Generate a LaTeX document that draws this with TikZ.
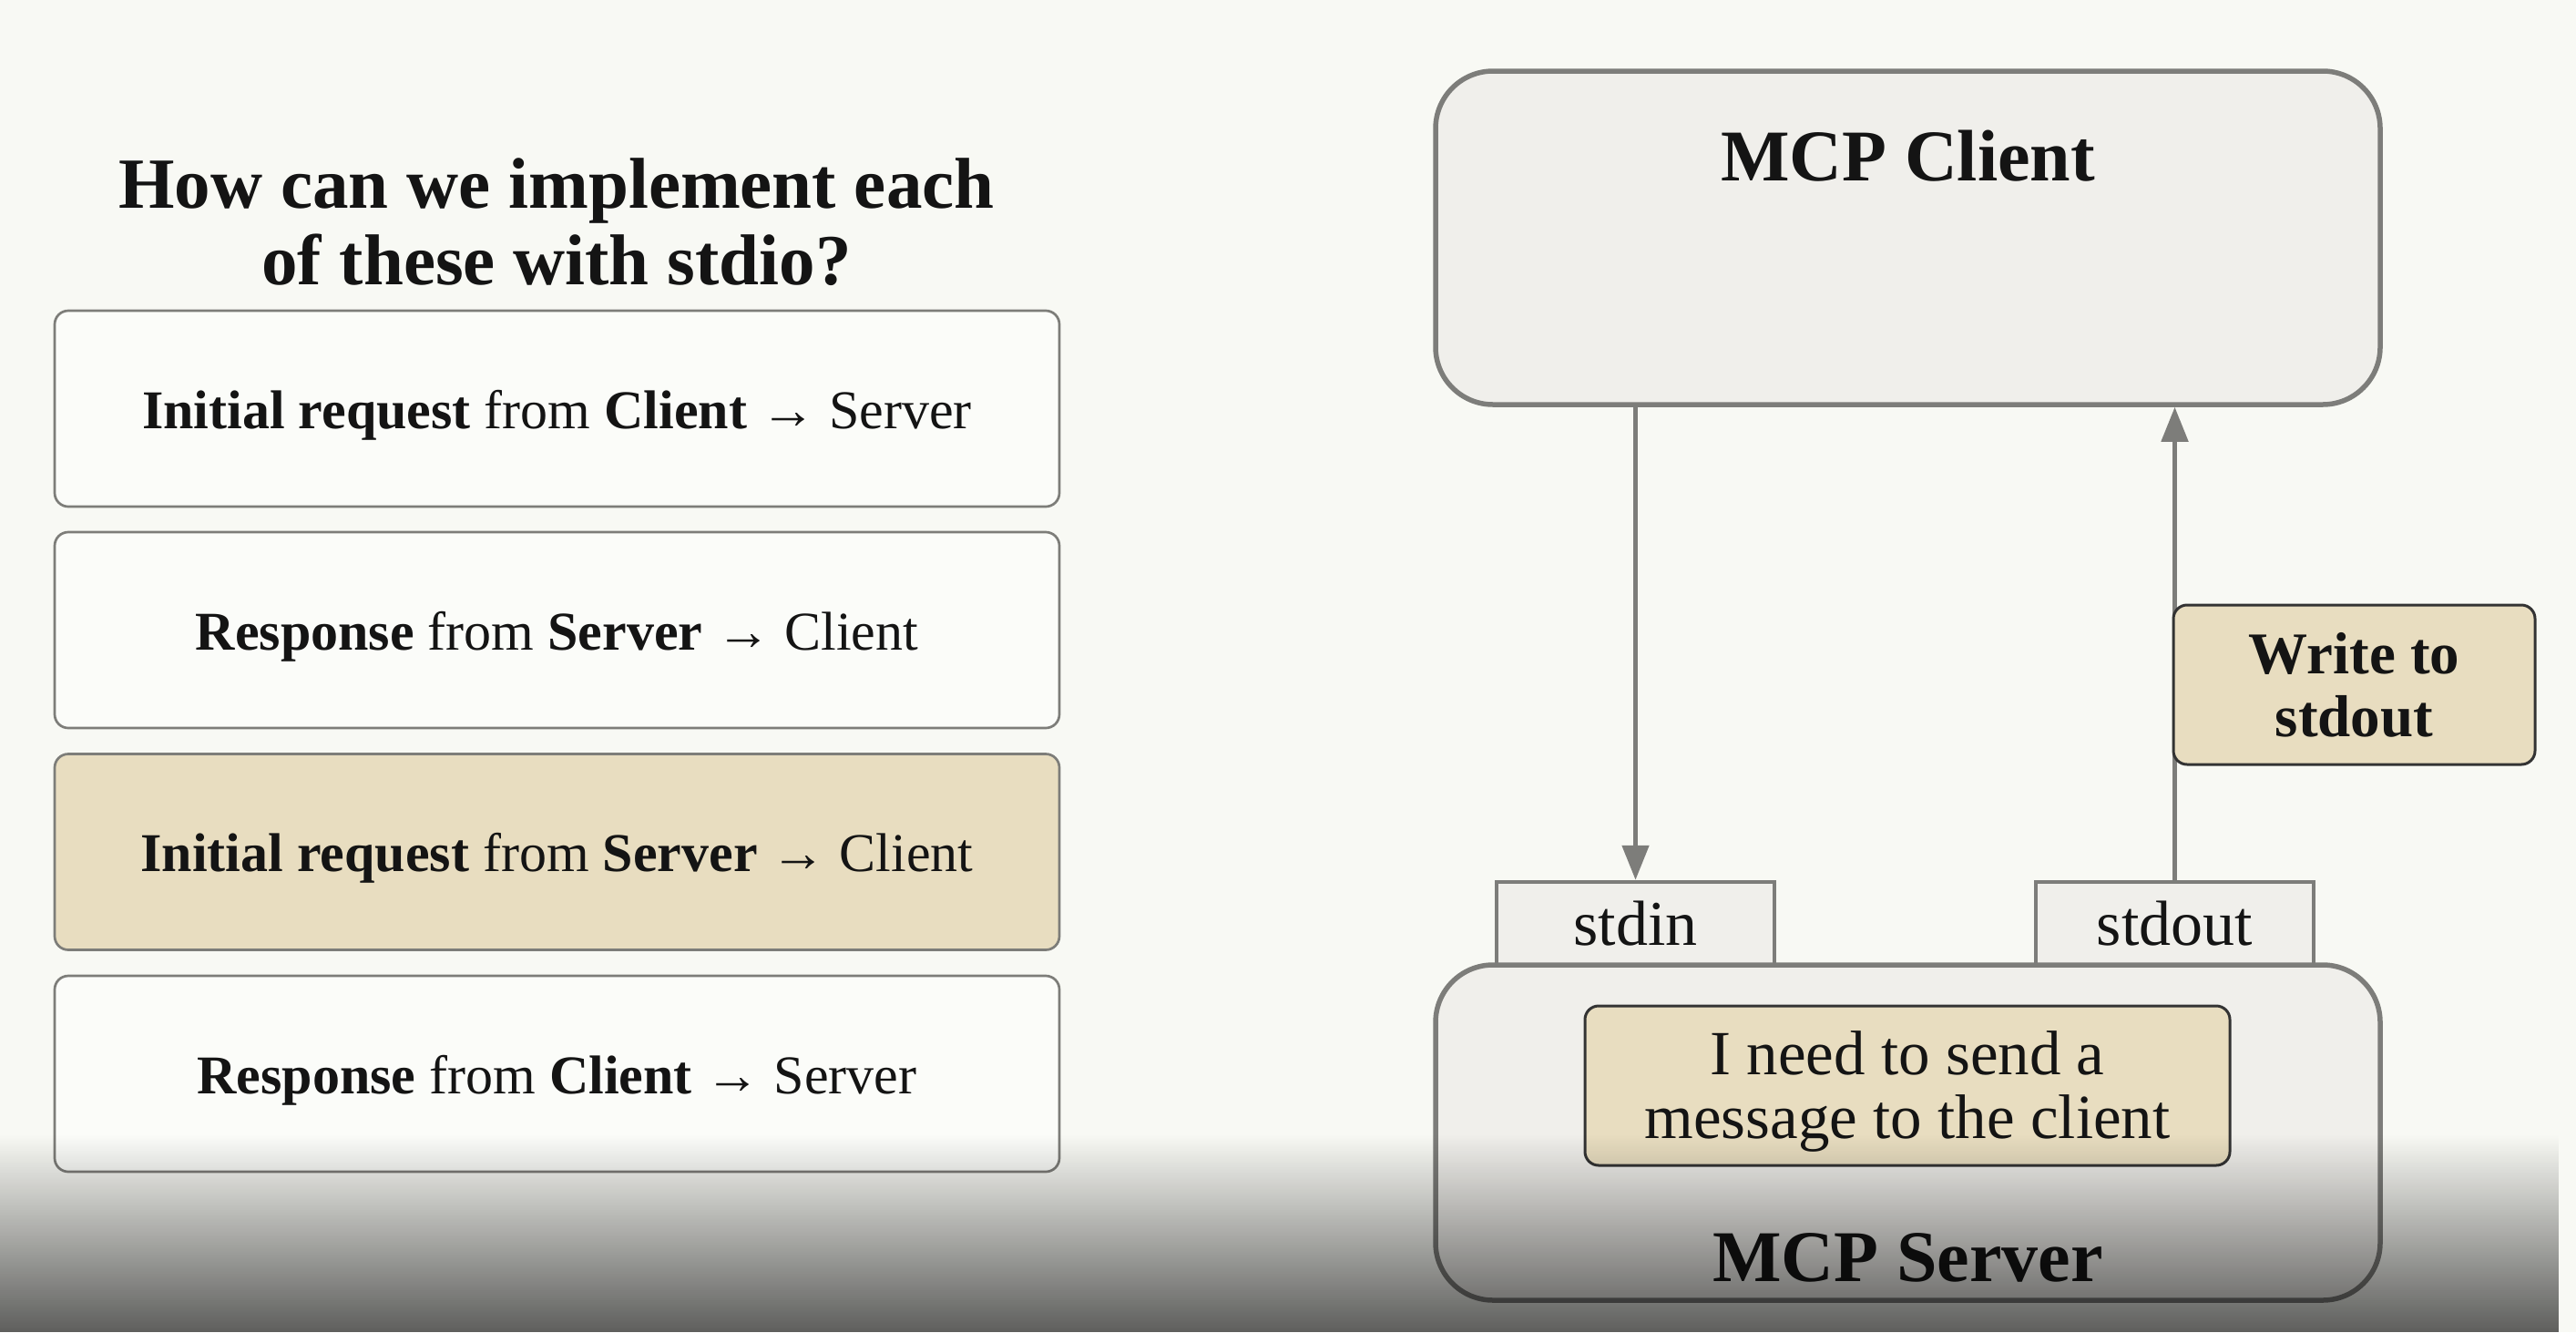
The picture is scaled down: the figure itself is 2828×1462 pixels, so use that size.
\documentclass[tikz,border=0pt]{standalone}
\usepackage{fontspec}
\setmainfont{Liberation Serif}
\usetikzlibrary{arrows.meta,fadings}
\definecolor{bg}{RGB}{248,249,244}
\definecolor{cardfill}{RGB}{251,252,249}
\definecolor{tanfill}{RGB}{232,221,192}
\definecolor{panel}{RGB}{240,239,235}
\definecolor{edge}{RGB}{125,125,122}
\definecolor{cardedge}{RGB}{125,125,121}
\definecolor{ink}{RGB}{20,20,20}
\tikzfading[name=shadefade, top color=transparent!100, bottom color=transparent!0]
\newcommand{\dropby}[2]{\raisebox{-#1}[\height][\depth]{#2}}
\tikzset{
  card/.style={draw=cardedge, line width=2.7pt, fill=cardfill, rounded corners=15pt,
    minimum width=1103pt, minimum height=215pt, inner sep=0pt, text=ink,
    font=\fontsize{60}{72}\selectfont},
  hicard/.style={card, fill=tanfill},
  bigbox/.style={draw=edge, line width=5.5pt, fill=panel, rounded corners=63pt,
    minimum width=1037pt, inner sep=0pt},
  tab/.style={draw=edge, line width=4.5pt, fill=panel, minimum width=305pt,
    minimum height=91pt, inner sep=0pt, text=ink, font=\fontsize{70}{80}\selectfont},
  note/.style={draw=black!80, line width=3pt, fill=tanfill, rounded corners=15pt,
    inner sep=0pt, text=ink, align=center},
  flow/.style={draw=edge, line width=5pt, -{Triangle[width=29pt,length=38pt]}},
  heading/.style={text=ink, font=\fontsize{80}{90}\selectfont\bfseries, inner sep=0pt}
}
\begin{document}
\begin{tikzpicture}[x=1pt,y=-1pt]
\fill[bg] (0,0) rectangle (2828,1462);
\useasboundingbox (0,0) rectangle (2828,1462);

% left column
\node[heading, font=\fontsize{79}{84}\selectfont\bfseries, align=center] (title) at (611,244)
  {How can we implement each\\of these with stdio?};
\node[card] (c1) at (611.5,448.5) {\dropby{7pt}{\textbf{Initial request} from \textbf{Client} → Server}};
\node[card] (c2) at (611.5,691.5) {\dropby{7pt}{\textbf{Response} from \textbf{Server} → Client}};
\node[hicard] (c3) at (611.5,935) {\dropby{7pt}{\textbf{Initial request} from \textbf{Server} → Client}};
\node[card] (c4) at (611.5,1178.5) {\dropby{7pt}{\textbf{Response} from \textbf{Client} → Server}};

% right side
\node[bigbox, minimum height=366pt] (client) at (2094.5,261) {};
\node[heading] (clientlbl) at (2094.5,171) {MCP Client};

\node[tab] (stdin) at (1795.5,1013.5) {stdin};
\node[tab] (stdout) at (2387.5,1013.5) {stdout};
\node[bigbox, minimum height=368pt] (server) at (2094.5,1243) {};
\node[heading] (serverlbl) at (2094.5,1380) {MCP Server};
\node[note, minimum width=708pt, minimum height=175pt,
  font=\fontsize{69}{70}\selectfont] (msg) at (2094,1191.5)
  {\dropby{9pt}{\begin{tabular}{@{}c@{}}I need to send a\\message to the client\end{tabular}}};

\draw[flow] (client.south -| stdin.north) -- (stdin.north);
\draw[flow] (stdout.north) -- (client.south -| stdout.north);
\node[note, minimum width=397pt, minimum height=175pt,
  font=\fontsize{65}{69}\selectfont\bfseries] (write) at (2584.5,751.5)
  {Write to\\stdout};

% bottom shading of the screen capture
\begin{scope}
\clip (0,0) rectangle (2828,1462);
\fill[black, opacity=0.62, path fading=shadefade] (0,1245) rectangle (2828,1462);
\end{scope}
\end{tikzpicture}
\end{document}
